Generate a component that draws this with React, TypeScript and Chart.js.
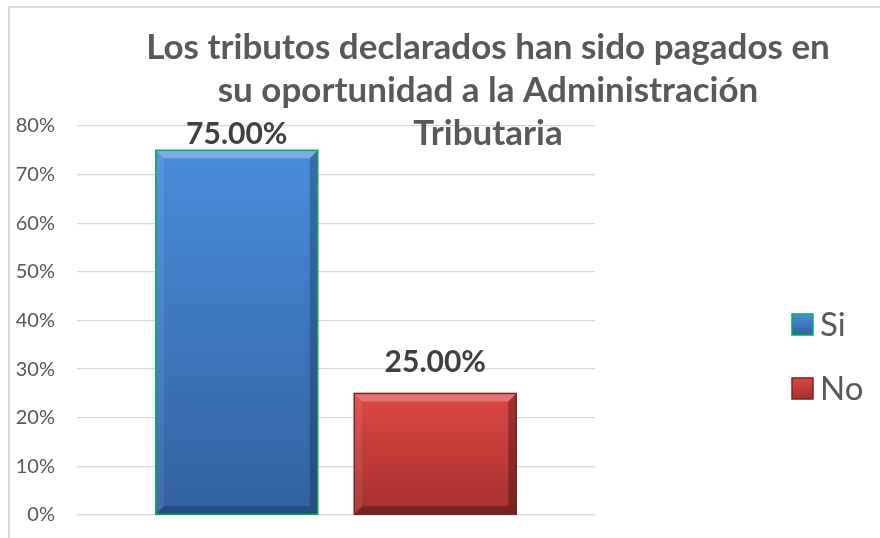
import React, { useEffect, useRef } from 'react';
import { Chart, registerables } from 'chart.js';

Chart.register(...registerables);

// ---- data ----
const categories = [''];
const seriesNames = ['Si', 'No'];
const siValues = [75];
const noValues = [25];
const yMin = 0;
const yMax = 80;
const yStep = 10;
const titleLines = [
  'Los tributos declarados han sido pagados en',
  'su oportunidad a la Administración',
  'Tributaria',
];

const FONT = 'Lato, "Open Sans", sans-serif';
const TEXT = '#595959';

const palettes = [
  { top: '#4a8cdb', bottom: '#3361a0', border: '#00b050', light: 'rgba(255,255,255,0.28)', dark: 'rgba(0,0,0,0.22)' },
  { top: '#dc4744', bottom: '#a5302d', border: '#7a2523', light: 'rgba(255,255,255,0.25)', dark: 'rgba(0,0,0,0.28)' },
];

function gradientFor(ctx: any) {
  const chart = ctx.chart;
  const pal = palettes[ctx.datasetIndex] || palettes[0];
  const ys = chart.scales && chart.scales.y;
  if (!ys || !chart.chartArea || ctx.raw == null) return pal.top;
  const top = ys.getPixelForValue(ctx.raw);
  const bottom = ys.getPixelForValue(0);
  const g = chart.ctx.createLinearGradient(0, top, 0, bottom);
  g.addColorStop(0, pal.top);
  g.addColorStop(1, pal.bottom);
  return g;
}

const framePlugin = {
  id: 'frame',
  beforeDraw(chart: any) {
    const c = chart.ctx;
    c.save();
    c.fillStyle = '#ffffff';
    c.fillRect(0, 0, chart.width, chart.height);
    c.strokeStyle = '#d9d9d9';
    c.lineWidth = 2;
    c.beginPath();
    c.moveTo(9, chart.height);
    c.lineTo(9, 7);
    c.lineTo(chart.width, 7);
    c.stroke();
    c.restore();
  },
};

const bevelPlugin = {
  id: 'bevel',
  afterDatasetsDraw(chart: any) {
    const c = chart.ctx;
    chart.data.datasets.forEach((_: any, di: number) => {
      const pal = palettes[di] || palettes[0];
      chart.getDatasetMeta(di).data.forEach((bar: any) => {
        const { x, y, base, width } = bar.getProps(['x', 'y', 'base', 'width'], true);
        const l = x - width / 2;
        const r = x + width / 2;
        const t = y;
        const b = base;
        const s = 8;
        c.save();
        c.fillStyle = pal.light;
        c.beginPath();
        c.moveTo(l, t); c.lineTo(r, t); c.lineTo(r - s, t + s); c.lineTo(l + s, t + s); c.closePath();
        c.fill();
        c.fillStyle = 'rgba(255,255,255,0.08)';
        c.beginPath();
        c.moveTo(l, t); c.lineTo(l + s, t + s); c.lineTo(l + s, b - s); c.lineTo(l, b); c.closePath();
        c.fill();
        c.fillStyle = pal.dark;
        c.beginPath();
        c.moveTo(r, t); c.lineTo(r, b); c.lineTo(r - s, b - s); c.lineTo(r - s, t + s); c.closePath();
        c.fill();
        c.beginPath();
        c.moveTo(l, b); c.lineTo(r, b); c.lineTo(r - s, b - s); c.lineTo(l + s, b - s); c.closePath();
        c.fill();
        c.strokeStyle = pal.border;
        c.lineWidth = 1.5;
        c.strokeRect(l, t, width, b - t);
        c.restore();
      });
    });
  },
};

const labelsPlugin = {
  id: 'valueLabels',
  afterDatasetsDraw(chart: any) {
    const c = chart.ctx;
    c.save();
    c.font = `bold 30px ${FONT}`;
    c.fillStyle = '#404040';
    c.textAlign = 'center';
    c.textBaseline = 'alphabetic';
    chart.data.datasets.forEach((ds: any, di: number) => {
      chart.getDatasetMeta(di).data.forEach((bar: any, i: number) => {
        const v = ds.data[i];
        const yy = Math.max(bar.y - 21, chart.chartArea.top + 18);
        c.fillText(`${Number(v).toFixed(2)}%`, bar.x, yy);
      });
    });
    c.restore();
  },
};

const titlePlugin = {
  id: 'overlayTitle',
  afterDraw(chart: any) {
    const c = chart.ctx;
    c.save();
    c.font = `bold 35px ${FONT}`;
    c.fillStyle = TEXT;
    c.textAlign = 'center';
    c.textBaseline = 'alphabetic';
    const cx = 488;
    titleLines.forEach((line, i) => {
      c.fillText(line, cx, 59 + i * 43);
    });
    c.restore();
  },
};

const legendPlugin = {
  id: 'sideLegend',
  afterDraw(chart: any) {
    const c = chart.ctx;
    const area = chart.chartArea;
    const x0 = area.right + 197;
    const mid = (area.top + area.bottom) / 2 + 36;
    c.save();
    c.font = `33px ${FONT}`;
    c.textBaseline = 'middle';
    c.textAlign = 'left';
    chart.data.datasets.forEach((ds: any, i: number) => {
      const pal = palettes[i] || palettes[0];
      const cy = mid + (i - 0.5) * 64;
      const sz = 21;
      const top = cy - sz / 2;
      const g = c.createLinearGradient(0, top, 0, top + sz);
      g.addColorStop(0, pal.top);
      g.addColorStop(1, pal.bottom);
      c.fillStyle = g;
      c.fillRect(x0, top, sz, sz);
      c.strokeStyle = pal.border;
      c.lineWidth = 1.5;
      c.strokeRect(x0, top, sz, sz);
      c.fillStyle = TEXT;
      c.fillText(ds.label, x0 + sz + 7, cy + 1);
    });
    c.restore();
  },
};

export default function App() {
  const ref = useRef<HTMLCanvasElement | null>(null);
  useEffect(() => {
    if (!ref.current) return;
    const chart = new Chart(ref.current, {
      type: 'bar',
      data: {
        labels: categories,
        datasets: [
          { label: seriesNames[0], data: siValues, backgroundColor: gradientFor as any, borderWidth: 0 },
          { label: seriesNames[1], data: noValues, backgroundColor: gradientFor as any, borderWidth: 0 },
        ],
      },
      options: {
        responsive: false,
        animation: false,
        categoryPercentage: 0.7664,
        barPercentage: 0.816,
        layout: { padding: { left: 10, right: 285, top: 126, bottom: 23 } },
        plugins: {
          legend: { display: false },
          title: { display: false },
          tooltip: { enabled: false },
        },
        scales: {
          x: { display: false },
          y: {
            min: yMin,
            max: yMax,
            ticks: {
              stepSize: yStep,
              callback: (v: any) => `${v}%`,
              color: TEXT,
              font: { family: FONT, size: 20 },
              padding: 22,
            },
            grid: { color: '#d9d9d9', lineWidth: 1.3, drawTicks: false },
            border: { display: false },
            afterFit: (s: any) => {
              s.width = 67;
              s.paddingTop = 0;
              s.paddingBottom = 0;
            },
          },
        },
      } as any,
      plugins: [framePlugin, bevelPlugin, labelsPlugin, titlePlugin, legendPlugin],
    });
    return () => chart.destroy();
  }, []);
  return (
    <div style={{ position: 'fixed', left: 0, top: 0, width: 880, height: 538, background: '#fff' }}>
      <canvas ref={ref} width={880} height={538} style={{ display: 'block', width: 880, height: 538 }} />
    </div>
  );
}
